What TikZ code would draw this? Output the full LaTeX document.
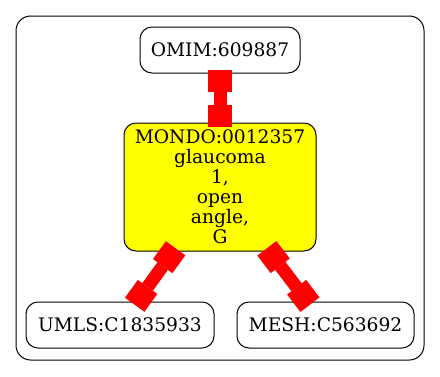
\documentclass[tikz,border=0pt]{standalone}
\usepackage{fontspec}
\setmainfont{DejaVu Serif}
\usetikzlibrary{arrows.meta}
\definecolor{term_yellow}{RGB}{255,255,0}
\definecolor{link_red}{RGB}{255,0,0}

\begin{document}
\begin{tikzpicture}[x=0.75pt,y=-0.75pt,
  term/.style={draw=black, line width=0.75pt, rounded corners=9pt, align=center,
    inner sep=0pt, font=\fontsize{14}{15}\selectfont},
  xref/.style={draw=link_red, line width=9.75pt,
    {Square[length=16.5pt,width=18pt,line width=0pt]}-{Square[length=16.5pt,width=18pt,line width=0pt]},
    shorten <=-3pt, shorten >=-3pt}]

\useasboundingbox (0,0) rectangle (440,376);
\draw[line width=0.75pt, rounded corners=11pt] (16,16) rectangle (424,360);

% terms
\node[term, minimum width=120pt, minimum height=34.5pt] (omim) at (220,50) {OMIM:609887};
\node[term, fill=term_yellow, minimum width=144pt, minimum height=96pt] (mondo) at (220,187)
  {MONDO:0012357\\glaucoma\\1,\\open\\angle,\\G};
\node[term, minimum width=141pt, minimum height=34.5pt] (umls) at (120,325) {UMLS:C1835933};
\node[term, minimum width=132.75pt, minimum height=34.5pt] (mesh) at (325.5,325) {MESH:C563692};

% cross references
\draw[xref] (omim) -- (mondo);
\draw[xref] (mondo) -- (umls);
\draw[xref] (mondo) -- (mesh);
\end{tikzpicture}
\end{document}
